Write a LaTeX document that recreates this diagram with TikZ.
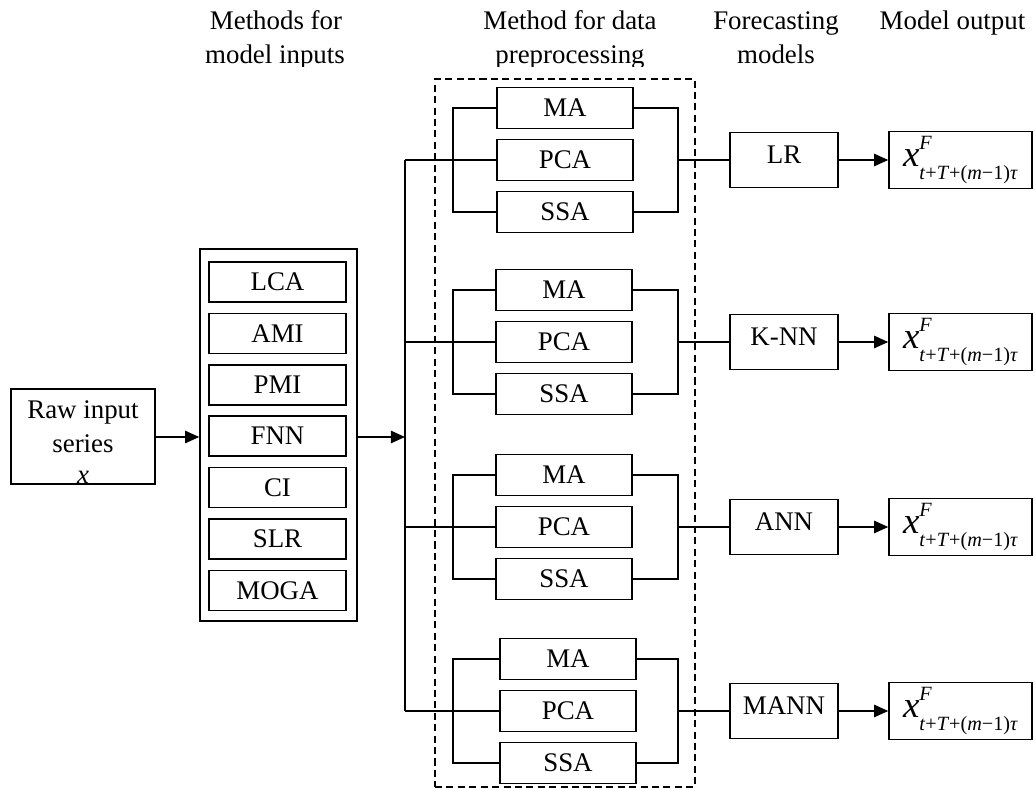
\documentclass[tikz,border=0pt]{standalone}
\usepackage{fontspec}
\setmainfont{Liberation Serif}
\usetikzlibrary{arrows.meta}

% forecast value x^F_{t+T+(m-1)tau}
\newcommand{\fcastlabel}{%
  {\fontsize{21}{21}\selectfont\textit{x}}%
  \makebox[0pt][l]{\raisebox{9.6pt}{\fontsize{11.5}{11.5}\selectfont\textit{F}}}%
  \raisebox{-7.5pt}{\fontsize{11.5}{11.5}\selectfont\textit{t}+\textit{T}+(\textit{m}−1)\textit{τ}}}

\tikzset{
  basefont/.style={font=\fontsize{15.3}{18.8}\selectfont},
  frame/.style={draw, line width=0.9pt, inner sep=0pt, basefont},
  selbox/.style={frame, minimum width=2.74cm, minimum height=0.80cm},
  prepbox/.style={frame, minimum width=2.72cm, minimum height=0.82cm},
  modelbox/.style={frame, minimum width=2.16cm, minimum height=1.10cm,
    text height=11pt, text depth=7pt},
  outbox/.style={frame, minimum width=2.86cm, minimum height=1.14cm},
  wire/.style={line width=0.9pt},
  arr/.style={wire, -{Triangle[length=8pt,width=7pt]}},
  head/.style={basefont, inner sep=0pt, anchor=base},
}

\begin{document}
\begin{tikzpicture}[x=0.02cm, y=-0.02cm]
\useasboundingbox (0,0) rectangle (1035,790);

% column headings (second lines run into the top margin of the drawing area)
\begin{scope}
  \clip (0,0) rectangle (1035,67);
  \node[head] (h1a) at (276,30) {Methods for};
  \node[head] (h1b) at (275,64) {model inputs};
  \node[head] (h2a) at (570,30) {Method for data};
  \node[head] (h2b) at (570,64) {preprocessing};
  \node[head] (h3a) at (776,30) {Forecasting};
  \node[head] (h3b) at (776,64) {models};
  \node[head] (h4a) at (952.5,30) {Model output};
\end{scope}

% raw series
\node[frame, minimum width=2.88cm, minimum height=1.90cm] (raw) at (83,436.5) {};
\begin{scope}
  \clip (raw.south west) rectangle (raw.north east);
  \node[head] (rawA) at (83,419) {Raw input};
  \node[head] (rawB) at (83,453) {series};
  \node[head] (rawC) at (83,483) {\textit{x}};
\end{scope}

% input-selection methods
\node[frame, minimum width=3.14cm, minimum height=7.44cm] (sel) at (278.5,435) {};
\foreach \name [count=\i from 0] in {LCA,AMI,PMI,FNN,CI,SLR,MOGA}
  \node[selbox] (s\i) at (277.5,{282+51.4*\i}) {\name};

\draw[arr] (raw.east |- 0,437) -- (sel.west |- 0,437);

% preprocessing frame
\node[draw, line width=0.9pt, dash pattern=on 4pt off 2.5pt,
      minimum width=5.20cm, minimum height=14.16cm, inner sep=0pt] (prep) at (565,433) {};

% bus feeding the four branches
\coordinate (bus1) at (405,160);
\coordinate (bus4) at (405,711);
\draw[wire] (bus1) -- (bus4);
\draw[arr] (sel.east |- 0,437) -- (405,437);

% branches: preprocessing trio -> model -> output
\foreach \g/\y/\bx/\mname in {1/160/565/LR, 2/342/564/K-NN, 3/527/564/ANN, 4/711/568/MANN} {
  \node[prepbox] (ma\g)  at (\bx,\y-52) {MA};
  \node[prepbox] (pca\g) at (\bx,\y) {PCA};
  \node[prepbox] (ssa\g) at (\bx,\y+52) {SSA};
  \coordinate (lb\g) at (453,\y);
  \coordinate (rb\g) at (678,\y);
  \coordinate (in\g) at (405,\y);
  \node[modelbox] (f\g) at (784,\y) {\mname};
  \node[outbox] (o\g) at (960.5,\y) {\fcastlabel};
  \draw[wire] (in\g) -- (pca\g.west);
  \draw[wire] (ma\g.west) -| (lb\g) |- (ssa\g.west);
  \draw[wire] (ma\g.east) -| (rb\g) |- (ssa\g.east);
  \draw[wire] (rb\g) -- (f\g.west);
  \draw[arr] (f\g.east) -- (o\g.west);
}
\end{tikzpicture}
\end{document}
